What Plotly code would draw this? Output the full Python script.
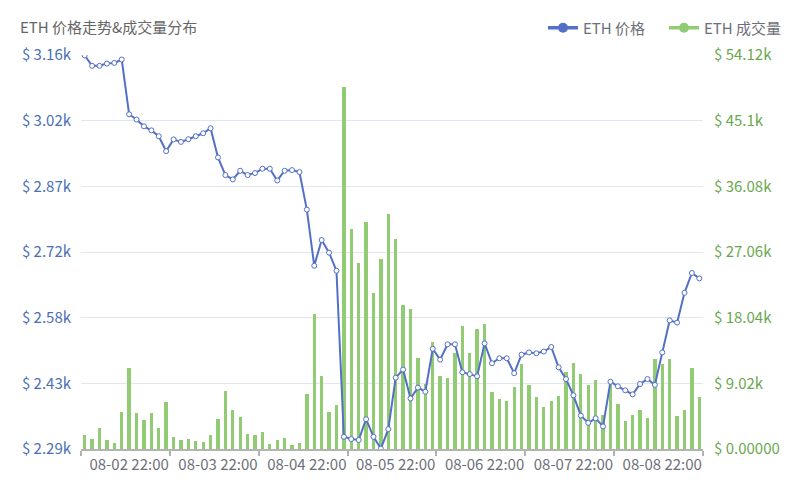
import numpy as np
import plotly.graph_objects as go

# ---------------- data ----------------
x_tick_labels = ["08-02 22:00", "08-03 22:00", "08-04 22:00", "08-05 22:00",
                 "08-06 22:00", "08-07 22:00", "08-08 22:00"]

price = [3161, 3138, 3138, 3143, 3144.5, 3152, 3030.6, 3019, 3004, 2995, 2982, 2949,
         2975, 2969.5, 2975.4, 2982, 2988.6, 2999.7, 2935, 2896, 2886.4, 2905.5, 2896, 2900.4,
         2910, 2910, 2884, 2905.5, 2907, 2902.6, 2819.5, 2695, 2752, 2724, 2684, 2316,
         2311, 2309, 2355, 2316, 2290, 2333, 2447, 2465, 2401, 2425, 2416, 2511,
         2487, 2521, 2521, 2459, 2455, 2450, 2523, 2479, 2490, 2490, 2457, 2498,
         2503, 2501, 2505, 2515, 2470, 2444, 2408, 2363, 2347, 2357, 2339, 2438,
         2428, 2419, 2410, 2433, 2444, 2431, 2503, 2574, 2569, 2635, 2679, 2667]

volume = [1967, 1418, 2928, 1281, 869, 5124, 11163, 4987, 4026, 4987, 2928, 6497,
          1693, 1281, 1418, 1144, 1006, 1967, 4163, 8006, 5398, 4438, 2104, 1967,
          2379, 732, 1281, 1556, 595, 869, 7595, 18575, 10065, 5124, 6085, 49730,
          30241, 25574, 31202, 21457, 26123, 32300, 28868, 19810, 19261, 12536, 8967, 14732,
          10065, 9790, 13222, 16928, 13222, 16516, 17202, 7869, 6908, 6634, 8555, 11712,
          8830, 7183, 5810, 6634, 7320, 10614, 11849, 10340, 8830, 9516, 4712, 9300,
          6222, 3889, 4712, 5399, 4301, 12398, 11712, 12398, 4575, 5399, 11163, 7183]

left_tick_labels = ["$ 2.29k", "$ 2.43k", "$ 2.58k", "$ 2.72k", "$ 2.87k", "$ 3.02k", "$ 3.16k"]
right_tick_labels = ["$ 0.00000", "$ 9.02k", "$ 18.04k", "$ 27.06k", "$ 36.08k", "$ 45.1k", "$ 54.12k"]

price_min, price_max = 2289, 3162
vol_min, vol_max = 0, 54120

title_text = "ETH 价格走势&成交量分布"
price_name = "ETH 价格"
volume_name = "ETH 成交量"

# ---------------- style ----------------
BLUE = "#5470c6"
GREEN = "#91cc75"
GRAY = "#6e7079"
FONT = "Noto Sans CJK SC, Liberation Sans, sans-serif"
W, H = 800, 500

n = len(price)
x = list(range(n))
per_day = 12
label_pos = [per_day // 2 + per_day * k for k in range(len(x_tick_labels))]
boundary_pos = [-0.5 + per_day * k for k in range(len(x_tick_labels) + 1)]

fig = go.Figure()

fig.add_trace(go.Bar(
    x=x, y=volume, yaxis="y", marker=dict(color=GREEN, line=dict(width=0)),
    width=0.45, showlegend=False, name=volume_name,
))

fig.add_trace(go.Scatter(
    x=x, y=price, yaxis="y2", mode="lines+markers", name=price_name,
    line=dict(color=BLUE, width=2),
    marker=dict(symbol="circle", size=5, color="white", line=dict(color=BLUE, width=1)),
    showlegend=False,
))

# legend-only entries
fig.add_trace(go.Scatter(
    x=[None], y=[None], yaxis="y2", mode="lines+markers", name=price_name,
    line=dict(color=BLUE, width=3.5), marker=dict(size=10, color=BLUE),
))
fig.add_trace(go.Scatter(
    x=[None], y=[None], yaxis="y2", mode="lines+markers", name=volume_name,
    line=dict(color=GREEN, width=3.5), marker=dict(size=10, color=GREEN),
))

fig.update_layout(
    width=W, height=H,
    margin=dict(l=73, r=105, t=47, b=59, autoexpand=False),
    paper_bgcolor="white", plot_bgcolor="white",
    font=dict(family=FONT, size=15, color=GRAY),
    bargap=0,
    title=dict(text=title_text, x=12 / W, xanchor="left", xref="container",
               y=1 - 20 / H, yanchor="middle", yref="container", automargin=False,
               font=dict(family=FONT, size=15, color="#666666")),
    legend=dict(orientation="h", xref="container", yref="container",
                x=535 / W, xanchor="left", y=1 - 20 / H, yanchor="middle",
                font=dict(family=FONT, size=15, color=GRAY),
                itemwidth=30, entrywidth=76, bgcolor="rgba(0,0,0,0)", traceorder="normal"),
    xaxis=dict(
        range=[-0.5, n - 0.5], showgrid=False, zeroline=False, automargin=False,
        showline=True, linecolor="#b3b3b3", linewidth=1.5,
        tickmode="array", tickvals=label_pos, ticktext=x_tick_labels, ticks="",
        ticklabelstandoff=1,
        tickfont=dict(family=FONT, size=15, color=GRAY),
        minor=dict(tickmode="array", tickvals=boundary_pos, ticks="outside",
                   ticklen=5, tickcolor="#b3b3b3", tickwidth=1.5, showgrid=False),
    ),
    yaxis=dict(
        side="right", range=[vol_min, vol_max], tickmode="array", automargin=False,
        tickvals=list(np.linspace(vol_min, vol_max, len(right_tick_labels))),
        ticktext=right_tick_labels, showgrid=True, gridcolor="#e0e6f1", gridwidth=1,
        zeroline=False, showline=False, ticks="", ticklabelstandoff=10,
        tickfont=dict(family=FONT, size=15, color="#6aa84f"),
    ),
    yaxis2=dict(
        side="left", overlaying="y", range=[price_min, price_max], tickmode="array",
        automargin=False,
        tickvals=list(np.linspace(price_min, price_max, len(left_tick_labels))),
        ticktext=left_tick_labels, showgrid=False, zeroline=False, showline=False,
        ticks="", ticklabelstandoff=9,
        tickfont=dict(family=FONT, size=15, color="#4a6fb5"),
    ),
)

fig.write_html("out.html")
